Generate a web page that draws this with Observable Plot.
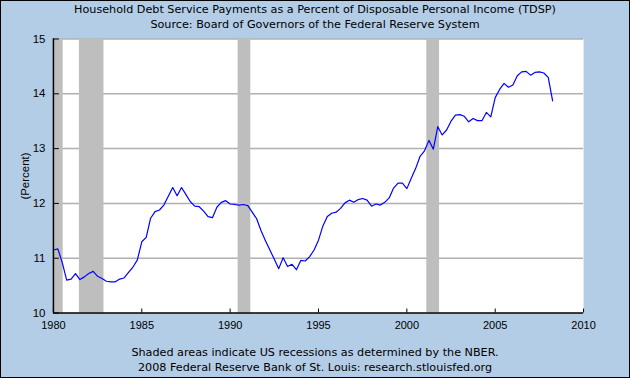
<!DOCTYPE html>
<html><head><meta charset="utf-8">
<script src="https://cdn.jsdelivr.net/npm/d3@7"></script>
<script src="https://cdn.jsdelivr.net/npm/@observablehq/plot@0.6"></script>
<style>
html,body{margin:0;padding:0;background:#B4CDE6;}
#wrap{position:relative;width:630px;height:378px;box-sizing:border-box;border:1px solid #000;background:#B4CDE6;overflow:hidden;font-family:"DejaVu Sans",sans-serif;color:#000;}
.t{position:absolute;left:0;width:628px;text-align:center;font-size:11.2px;line-height:14px;white-space:nowrap;}
#chart{position:absolute;left:-1px;top:33px;}
</style></head><body>
<div id="wrap">
  <div class="t" style="top:2px">Household Debt Service Payments as a Percent of Disposable Personal Income (TDSP)</div>
  <div class="t" style="top:17px">Source: Board of Governors of the Federal Reserve System</div>
  <div id="chart"></div>
  <div class="t" style="top:345px">Shaded areas indicate US recessions as determined by the NBER.</div>
  <div class="t" style="top:360px">2008 Federal Reserve Bank of St. Louis: research.stlouisfed.org</div>
</div>
<script>
// Quarterly TDSP values, 1980Q1 onward
const startYear = 1980;
const tdsp = [
  11.15, 11.17, 10.92, 10.60,
  10.62, 10.72, 10.61, 10.66,
  10.72, 10.76, 10.67, 10.63,
  10.58, 10.57, 10.57, 10.62,
  10.64, 10.74, 10.84, 10.97,
  11.30, 11.38, 11.73, 11.85,
  11.88, 11.97, 12.13, 12.29,
  12.14, 12.29, 12.16, 12.03,
  11.95, 11.94, 11.86, 11.76,
  11.74, 11.93, 12.02, 12.05,
  11.99, 11.98, 11.97, 11.98,
  11.96, 11.84, 11.72, 11.50,
  11.32, 11.15, 10.98, 10.81,
  11.01, 10.85, 10.89, 10.79,
  10.96, 10.95, 11.03, 11.15,
  11.33, 11.59, 11.76, 11.82,
  11.84, 11.91, 12.01, 12.06,
  12.02, 12.07, 12.09, 12.06,
  11.95, 11.99, 11.97, 12.02,
  12.10, 12.28, 12.37, 12.37,
  12.27, 12.46, 12.64, 12.86,
  12.96, 13.15, 12.99, 13.40,
  13.25, 13.34, 13.50, 13.61,
  13.62, 13.59, 13.49, 13.55,
  13.51, 13.51, 13.66, 13.58,
  13.93, 14.08, 14.19, 14.12,
  14.16, 14.33, 14.40, 14.41,
  14.34, 14.39, 14.40, 14.38,
  14.30, 13.87
];
// Recession periods (decimal years)
const recStart = [1980.0, 1981.47, 1990.45, 2001.13];
const recEnd   = [1980.55, 1982.86, 1991.17, 2001.85];
// Axis ticks
const yTicks = [10, 11, 12, 13, 14, 15];
const xTicks = [1980, 1985, 1990, 1995, 2000, 2005, 2010];

const data = tdsp.map((v, i) => ({date: startYear + i / 4, value: v}));
const recessions = recStart.map((s, i) => ({start: s, end: recEnd[i]}));

const chart = Plot.plot({
  width: 630,
  height: 306,
  marginTop: 4.5,
  marginBottom: 27,
  marginLeft: 53,
  marginRight: 46,
  style: {background: "transparent", fontFamily: "'Liberation Sans', sans-serif", fontSize: "11px", color: "#000"},
  x: {domain: [xTicks[0], xTicks[xTicks.length - 1]]},
  y: {domain: [yTicks[0], yTicks[yTicks.length - 1]]},
  marks: [
    Plot.frame({fill: "white", stroke: null}),
    Plot.ruleY(yTicks.slice(1), {stroke: "#B0B0B0", strokeWidth: 1.5}),
    Plot.rect(recessions, {x1: "start", x2: "end", fill: "#BEBEBE"}),
    Plot.line(data, {x: "date", y: "value", stroke: "#0000FF", strokeWidth: 1.2}),
    Plot.ruleX([xTicks[0]], {stroke: "#000", strokeWidth: 1.5}),
    Plot.ruleY([yTicks[0]], {stroke: "#000", strokeWidth: 1.5}),
    Plot.axisY(yTicks, {tickSize: -6, tickPadding: 14, tickFormat: d => String(d), label: "(Percent)", labelAnchor: "center", labelOffset: 33, labelArrow: "none", fontSize: 11.5}),
    Plot.axisX(xTicks, {tickSize: -4, tickPadding: 12, tickFormat: d => String(d), label: null})
  ]
});
document.getElementById("chart").appendChild(chart);
</script>
</body></html>
